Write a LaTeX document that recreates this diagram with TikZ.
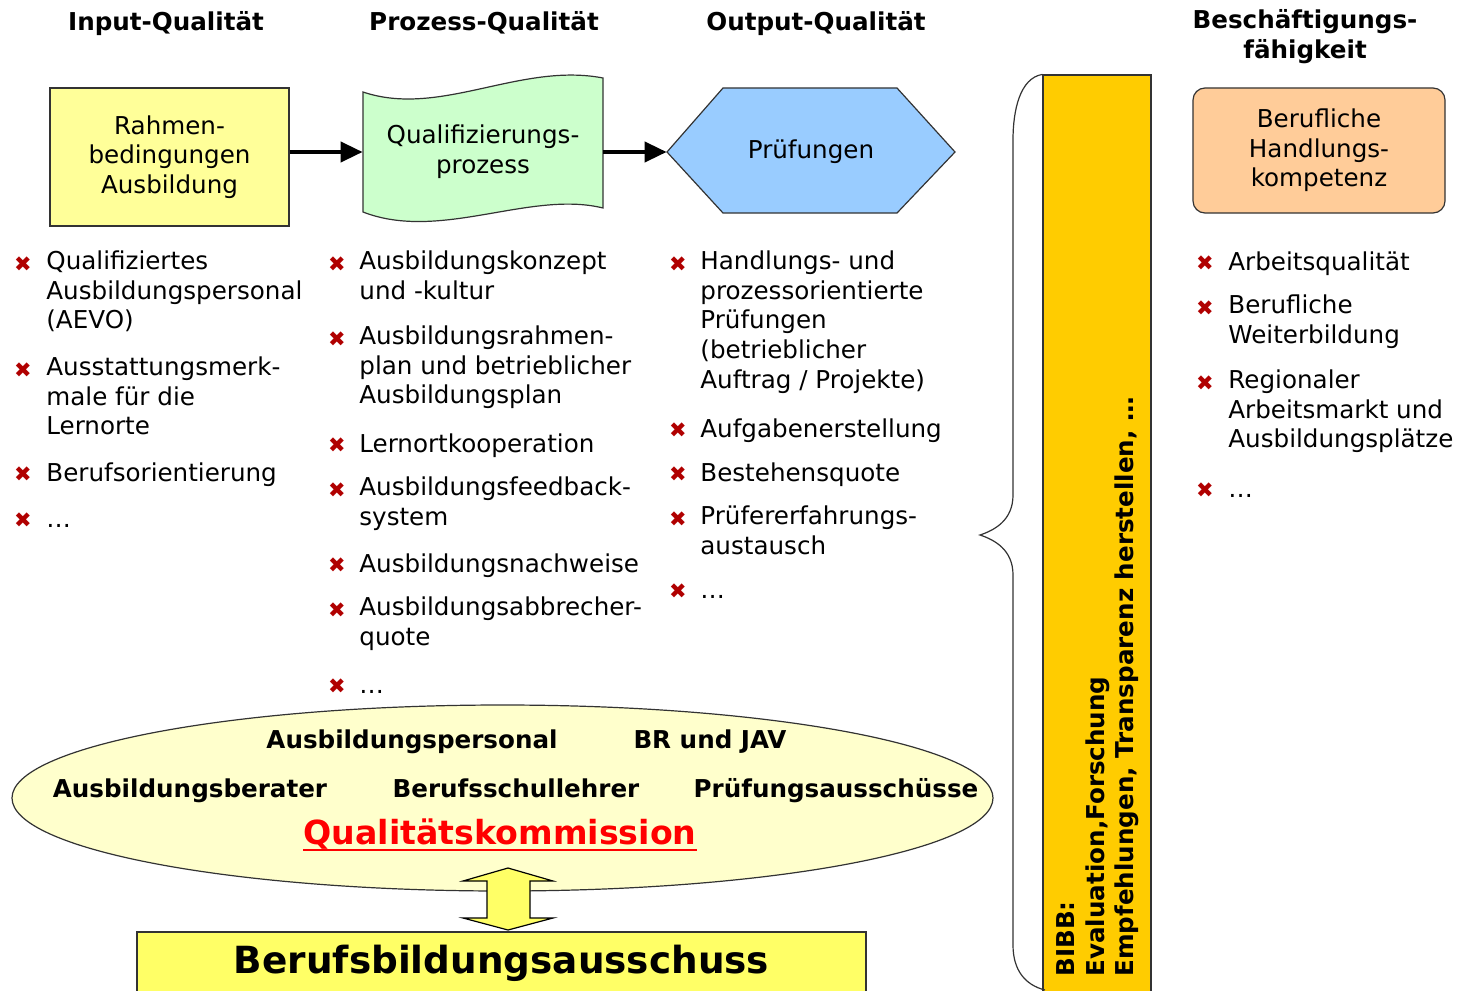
\documentclass[tikz,border=0pt]{standalone}
\usepackage{fontspec}
\setmainfont{DejaVu Sans}
\usepackage{xcolor}
\usepackage{tikz}
\usetikzlibrary{positioning, shapes, arrows.meta, calc}

\definecolor{rahmengelb}{HTML}{FFFF99}
\definecolor{prozessgruen}{HTML}{CCFFCC}
\definecolor{pruefblau}{HTML}{99CCFF}
\definecolor{kompetenzorange}{HTML}{FFCC99}
\definecolor{bibbgelb}{HTML}{FFCC00}
\definecolor{kommgelb}{HTML}{FFFFCC}
\definecolor{ausschussgelb}{HTML}{FFFF66}
\definecolor{kreuzrot}{HTML}{B00000}
\definecolor{linie}{HTML}{333333}

\newcommand{\grundschrift}{\fontsize{12.3}{14.85}\selectfont}

\tikzset{
  kasten/.style={draw=linie, line width=0.6pt, align=center, inner sep=0pt, font=\grundschrift},
  kopf/.style={anchor=north, align=center, inner sep=0pt, font=\bfseries\grundschrift, execute at begin node=\strut},
  punkt/.style={anchor=north west, align=left, inner sep=0pt, font=\grundschrift, execute at begin node=\strut},
  kreuz/.style={inner sep=0pt, text=kreuzrot, font=\fontsize{10.5}{11}\selectfont},
  gruppe/.style={anchor=base, inner sep=0pt, font=\bfseries\grundschrift},
  pfeil/.style={line width=2pt, -{Triangle[length=11pt,width=10pt]}}
}

\begin{document}
\begin{tikzpicture}[x=0.5pt, y=-0.5pt]
  \useasboundingbox (0,0) rectangle (1466,990);
  \clip (0,0) rectangle (1466,990);

  % Ueberschriften
  \node[kopf] (input) at (166,9.3) {Input-Qualität};
  \node[kopf] (prozess) at (484,9.3) {Prozess-Qualität};
  \node[kopf] (output) at (816,9.3) {Output-Qualität};
  \node[kopf] (beschaeftigung) at (1305,9.3) {Beschäftigungs-\\fähigkeit};

  % Formen oben
  \node[kasten, fill=rahmengelb, minimum width=119.5pt, minimum height=69pt] (rahmen) at (169.5,157) {Rahmen-\\bedingungen\\Ausbildung};

  \filldraw[fill=prozessgruen, draw=linie, line width=0.6pt] (363,92) .. controls (440,118) and (520,62) .. (603,78)
    -- (603,208) .. controls (530,190) and (440,242) .. (363,212) -- cycle;
  \node[align=center, inner sep=0pt, font=\grundschrift, minimum width=120pt, minimum height=65pt] (quali) at (483,152) {Qualifizierungs-\\prozess};

  \filldraw[fill=pruefblau, draw=linie, line width=0.6pt] (667,152) -- (723,88) -- (897,88) -- (955,152) -- (897,213) -- (723,213) -- cycle;
  \node[inner sep=0pt, font=\grundschrift, minimum width=144pt, minimum height=62.5pt] (pruef) at (811,152) {Prüfungen};

  \node[kasten, fill=kompetenzorange, rounded corners=6pt, minimum width=126pt, minimum height=62.5pt] (kompetenz) at (1319,150.5) {Berufliche\\Handlungs-\\kompetenz};

  % Pfeile
  \draw[pfeil] (rahmen.east |- quali.west) -- (quali.west);
  \draw[pfeil] (quali.east) -- (pruef.west);

  % Input-Qualitaet
  \foreach \y/\txt [count=\i] in {271/{Qualifiziertes\\Ausbildungspersonal\\(AEVO)}, 377/{Ausstattungsmerk-\\male für die\\Lernorte}, 481/{Berufsorientierung}, 527/{…}} {
    \node[kreuz] (kreuzA\i) at (23,\y-7) {✖};
    \node[punkt] (inA\i) at (46,\y-20.7) {\txt};
  }

  % Prozess-Qualitaet
  \foreach \y/\txt [count=\i] in {271/{Ausbildungskonzept\\und -kultur}, 346/{Ausbildungsrahmen-\\plan und betrieblicher\\Ausbildungsplan}, 452/{Lernortkooperation}, 497/{Ausbildungsfeedback-\\system}, 572/{Ausbildungsnachweise}, 617/{Ausbildungsabbrecher-\\quote}, 693/{…}} {
    \node[kreuz] (kreuzB\i) at (337,\y-7) {✖};
    \node[punkt] (inB\i) at (359,\y-20.7) {\txt};
  }

  % Output-Qualitaet
  \foreach \y/\txt [count=\i] in {271/{Handlungs- und\\prozessorientierte\\Prüfungen\\(betrieblicher\\Auftrag / Projekte)}, 437/{Aufgabenerstellung}, 481/{Bestehensquote}, 526/{Prüfererfahrungs-\\austausch}, 598/{…}} {
    \node[kreuz] (kreuzC\i) at (678,\y-7) {✖};
    \node[punkt] (inC\i) at (700,\y-20.7) {\txt};
  }

  % Beschaeftigungsfaehigkeit
  \foreach \y/\txt [count=\i] in {270/{Arbeitsqualität}, 315/{Berufliche\\Weiterbildung}, 390/{Regionaler\\Arbeitsmarkt und\\Ausbildungsplätze}, 497/{…}} {
    \node[kreuz] (kreuzD\i) at (1205,\y-7) {✖};
    \node[punkt] (inD\i) at (1228,\y-20.7) {\txt};
  }

  % Qualitaetskommission
  \node[ellipse, draw=linie, line width=0.6pt, fill=kommgelb, minimum width=490.5pt, minimum height=93pt, inner sep=0pt] (kommission) at (502.5,798) {};
  \node[gruppe] (personal) at (412,748) {Ausbildungspersonal};
  \node[gruppe] (brjav) at (710,748) {BR und JAV};
  \node[gruppe] (berater) at (190,797) {Ausbildungsberater};
  \node[gruppe] (lehrer) at (516,797) {Berufsschullehrer};
  \node[gruppe] (pruefer) at (836,797) {Prüfungsausschüsse};
  \node[anchor=base, inner sep=0pt, text=red, font=\bfseries\fontsize{16.6}{20}\selectfont] (qkomm) at (500,844) {Qualitätskommission};
  \draw[red, line width=1.2pt] ([yshift=-3pt]qkomm.base west) -- ([yshift=-3pt]qkomm.base east);

  % Berufsbildungsausschuss
  \node[kasten, fill=ausschussgelb, minimum width=364.5pt, minimum height=31pt, font=\bfseries\fontsize{18.7}{22}\selectfont] (ausschuss) at (501.5,963) {Berufsbildungsausschuss};

  % Doppelpfeil
  \filldraw[fill=ausschussgelb, draw=black, line width=0.6pt] (508,868) -- (553,881) -- (530,881) -- (530,918) -- (553,918) -- (508,930)
    -- (463,918) -- (487,918) -- (487,881) -- (463,881) -- cycle;

  % BIBB
  \node[draw=linie, line width=0.6pt, fill=bibbgelb, minimum width=54pt, minimum height=465pt, inner sep=0pt] (bibb) at (1097,540) {};
  \node[rotate=90, anchor=north west, align=left, inner sep=0pt, font=\bfseries\grundschrift, execute at begin node=\strut] (bibbtext) at (1056,977) {BIBB:\\Evaluation,Forschung\\Empfehlungen, Transparenz herstellen, …};

  % Klammer
  \draw[linie, line width=0.6pt] (bibb.north west) .. controls (1020,78) and (1013,110) .. (1013,140) -- (1013,495)
    .. controls (1013,520) and (995,530) .. (980,535) .. controls (995,540) and (1013,550) .. (1013,575)
    -- (1013,945) .. controls (1013,970) and (1025,985) .. (1045,990);
\end{tikzpicture}
\end{document}
